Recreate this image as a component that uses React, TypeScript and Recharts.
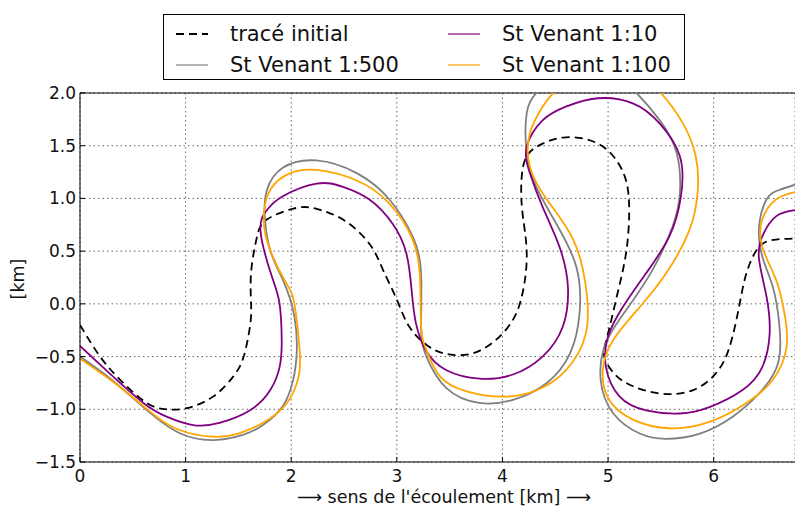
import { LineChart, Line, XAxis, YAxis, CartesianGrid, ReferenceLine, Legend } from "recharts"

const FONT = "'DejaVu Sans', sans-serif"

const xTicks = [0, 1, 2, 3, 4, 5, 6]
const yTicks = [-1.5, -1, -0.5, 0, 0.5, 1, 1.5, 2]

// tracé initial (dashed black)
const initialX = [0, 0.19, 0.38, 0.63, 0.82, 1.01, 1.26, 1.45, 1.55, 1.61, 1.62, 1.62, 1.67, 1.77, 2.05, 2.24, 2.49, 2.74, 2.87, 3.0, 3.12, 3.31, 3.5, 3.72, 3.94, 4.1, 4.19, 4.23, 4.19, 4.18, 4.23, 4.38, 4.6, 4.86, 5.05, 5.17, 5.2, 5.17, 5.09, 5.0, 4.96, 5.01, 5.17, 5.49, 5.8, 6.02, 6.15, 6.24, 6.31, 6.43, 6.59, 6.77]
const initialY = [-0.2, -0.5, -0.72, -0.94, -1.0, -0.99, -0.88, -0.69, -0.5, -0.21, 0.0, 0.3, 0.61, 0.8, 0.91, 0.9, 0.8, 0.57, 0.32, 0.04, -0.22, -0.41, -0.48, -0.47, -0.34, -0.15, 0.1, 0.48, 0.86, 1.17, 1.4, 1.52, 1.58, 1.54, 1.4, 1.17, 0.86, 0.48, 0.1, -0.28, -0.47, -0.6, -0.75, -0.85, -0.82, -0.66, -0.41, -0.03, 0.29, 0.54, 0.61, 0.62]

// St Venant 1:500 (gray)
const sv500X = [0, 0.3, 0.6, 0.95, 1.3, 1.55, 1.7, 1.89, 2.0, 2.05, 2.03, 1.92, 1.8, 1.75, 1.77, 1.92, 2.24, 2.62, 2.93, 3.15, 3.23, 3.23, 3.28, 3.47, 3.78, 4.1, 4.42, 4.64, 4.73, 4.7, 4.51, 4.32, 4.23, 4.23, 4.32, 4.5, 4.8, 5.1, 5.27, 5.49, 5.65, 5.68, 5.61, 5.42, 5.17, 4.98, 4.93, 5.05, 5.3, 5.55, 5.87, 6.18, 6.43, 6.61, 6.62, 6.56, 6.46, 6.43, 6.5, 6.62, 6.77]
const sv500Y = [-0.5, -0.72, -0.98, -1.23, -1.29, -1.24, -1.17, -1.01, -0.79, -0.5, -0.12, 0.23, 0.51, 0.83, 1.08, 1.29, 1.36, 1.24, 0.99, 0.64, 0.29, -0.22, -0.5, -0.8, -0.94, -0.91, -0.75, -0.47, -0.09, 0.35, 0.76, 1.11, 1.43, 1.81, 2.0, 2.13, 2.2, 2.12, 2.0, 1.74, 1.43, 1.05, 0.73, 0.32, -0.06, -0.37, -0.72, -1.04, -1.23, -1.28, -1.23, -1.07, -0.85, -0.56, -0.18, 0.16, 0.45, 0.73, 0.99, 1.08, 1.13]

// St Venant 1:10 (purple)
const sv10X = [0, 0.28, 0.6, 0.82, 1.07, 1.32, 1.61, 1.8, 1.89, 1.91, 1.89, 1.82, 1.71, 1.77, 1.92, 2.24, 2.49, 2.74, 2.96, 3.09, 3.14, 3.18, 3.28, 3.47, 3.78, 4.1, 4.38, 4.57, 4.62, 4.54, 4.38, 4.26, 4.23, 4.38, 4.6, 4.9, 5.24, 5.49, 5.68, 5.69, 5.58, 5.36, 5.14, 5.0, 4.98, 5.11, 5.36, 5.68, 5.96, 6.27, 6.46, 6.53, 6.5, 6.43, 6.46, 6.59, 6.77]
const sv10Y = [-0.4, -0.66, -0.94, -1.07, -1.15, -1.13, -1.01, -0.82, -0.6, -0.34, 0.0, 0.25, 0.68, 0.89, 1.02, 1.14, 1.11, 0.99, 0.76, 0.48, 0.13, -0.18, -0.45, -0.63, -0.71, -0.67, -0.5, -0.22, 0.16, 0.54, 0.92, 1.24, 1.49, 1.74, 1.87, 1.95, 1.9, 1.71, 1.4, 1.02, 0.64, 0.29, -0.03, -0.31, -0.6, -0.88, -1.01, -1.04, -0.98, -0.82, -0.6, -0.28, 0.07, 0.42, 0.64, 0.83, 0.89]

// St Venant 1:100 (orange)
const sv100X = [0, 0.3, 0.6, 0.9, 1.26, 1.5, 1.73, 1.96, 2.07, 2.08, 2.03, 1.95, 1.8, 1.74, 1.8, 1.99, 2.24, 2.62, 2.93, 3.15, 3.22, 3.23, 3.28, 3.41, 3.66, 4.0, 4.32, 4.6, 4.79, 4.79, 4.67, 4.42, 4.26, 4.26, 4.38, 4.48, 4.7, 5.0, 5.3, 5.5, 5.71, 5.83, 5.85, 5.77, 5.55, 5.3, 5.05, 4.95, 5.01, 5.24, 5.58, 5.96, 6.31, 6.56, 6.69, 6.67, 6.59, 6.46, 6.46, 6.59, 6.77]
const sv100Y = [-0.52, -0.73, -0.97, -1.18, -1.26, -1.23, -1.13, -0.94, -0.69, -0.44, 0.0, 0.2, 0.51, 0.8, 1.08, 1.24, 1.27, 1.17, 0.95, 0.61, 0.23, -0.22, -0.44, -0.69, -0.83, -0.88, -0.82, -0.63, -0.28, 0.16, 0.61, 0.99, 1.3, 1.62, 1.87, 2.0, 2.17, 2.22, 2.15, 2.0, 1.71, 1.4, 1.08, 0.7, 0.29, -0.03, -0.34, -0.63, -0.91, -1.1, -1.18, -1.12, -0.94, -0.72, -0.41, -0.09, 0.23, 0.54, 0.8, 0.99, 1.06]

const toPoints = (xs: number[], ys: number[]) => xs.map((x, i) => ({ x, y: ys[i] }))

const series = [
    { name: "tracé initial", color: "#000000", dash: "8 5", points: toPoints(initialX, initialY) },
    { name: "St Venant 1:500", color: "#808080", dash: undefined, points: toPoints(sv500X, sv500Y) },
    { name: "St Venant 1:10", color: "#800080", dash: undefined, points: toPoints(sv10X, sv10Y) },
    { name: "St Venant 1:100", color: "#FFA500", dash: undefined, points: toPoints(sv100X, sv100Y) },
]

const fmtY = (v: number) => (v < 0 ? "\u2212" : "") + Math.abs(v).toFixed(1)

function XTick({ x, y, payload }: any) {
    return (
        <g>
            <line x1={x} y1={y} x2={x} y2={y - 5} stroke="#000" />
            <text x={x} y={y + 20} textAnchor="middle" fontSize={17} fontFamily={FONT} fill="#111">
                {payload.value}
            </text>
        </g>
    )
}

function YTick({ x, y, payload }: any) {
    return (
        <g>
            <line x1={x} y1={y} x2={x + 5} y2={y} stroke="#000" />
            <text x={x - 4} y={y + 6} textAnchor="end" fontSize={17} fontFamily={FONT} fill="#111">
                {fmtY(payload.value)}
            </text>
        </g>
    )
}

function LegendBox() {
    const row = (top: number, left: number, s: (typeof series)[number]) => (
        <div key={s.name} style={{ position: "absolute", top: top - 13, left, height: 26, display: "flex", alignItems: "center" }}>
            <svg width={34} height={10} style={{ marginRight: 21 }}>
                <line x1={1} y1={5} x2={33} y2={5} stroke={s.color} strokeWidth={s.dash ? 1.8 : 1.2} strokeDasharray={s.dash} />
            </svg>
            <span>{s.name}</span>
        </div>
    )
    return (
        <div
            style={{
                width: 522,
                height: 66,
                border: "1px solid #000",
                background: "#fff",
                boxSizing: "border-box",
                position: "relative",
                fontFamily: FONT,
                fontSize: 21,
                color: "#111",
                whiteSpace: "nowrap",
            }}
        >
            {row(19, 11, series[0])}
            {row(50, 11, series[1])}
            {row(19, 283, series[2])}
            {row(50, 283, series[3])}
        </div>
    )
}

export default function App() {
    return (
        <div style={{ width: 795, height: 508, background: "#fff" }}>
            <style>{"body{margin:0}"}</style>
            <LineChart width={795} height={508} margin={{ top: 93, right: 0, bottom: 0, left: 0 }}>
                <CartesianGrid stroke="#666" strokeDasharray="1.5 3" />
                <XAxis
                    dataKey="x"
                    type="number"
                    domain={[0, 6.77]}
                    ticks={xTicks}
                    allowDataOverflow
                    height={46}
                    tickSize={0}
                    tickMargin={0}
                    tickLine={false}
                    axisLine={{ stroke: "#000" }}
                    tick={XTick}
                    interval={0}
                    label={() => (
                        <text x={444} y={503} textAnchor="middle" fontSize={17.5} fontFamily={FONT} fill="#111">
                            {"\u27F6 sens de l'écoulement [km] \u27F6"}
                        </text>
                    )}
                />
                <YAxis
                    dataKey="y"
                    type="number"
                    domain={[-1.5, 2]}
                    ticks={yTicks}
                    allowDataOverflow
                    width={80}
                    tickSize={0}
                    tickMargin={0}
                    tickLine={false}
                    axisLine={{ stroke: "#000" }}
                    tick={YTick}
                    interval={0}
                    label={() => (
                        <text x={24} y={279} transform="rotate(-90 24 279)" textAnchor="middle" fontSize={17.5} fontFamily={FONT} fill="#111">
                            [km]
                        </text>
                    )}
                />
                <ReferenceLine y={2} stroke="#000" />
                {series.map((s) => (
                    <Line
                        key={s.name}
                        data={s.points}
                        dataKey="y"
                        name={s.name}
                        type="natural"
                        stroke={s.color}
                        strokeWidth={1.8}
                        strokeDasharray={s.dash}
                        dot={false}
                        activeDot={false}
                        isAnimationActive={false}
                    />
                ))}
                <Legend
                    layout="vertical"
                    align="center"
                    verticalAlign="middle"
                    content={() => <LegendBox />}
                    wrapperStyle={{ top: 14, left: 163, width: 522 }}
                />
            </LineChart>
        </div>
    )
}
